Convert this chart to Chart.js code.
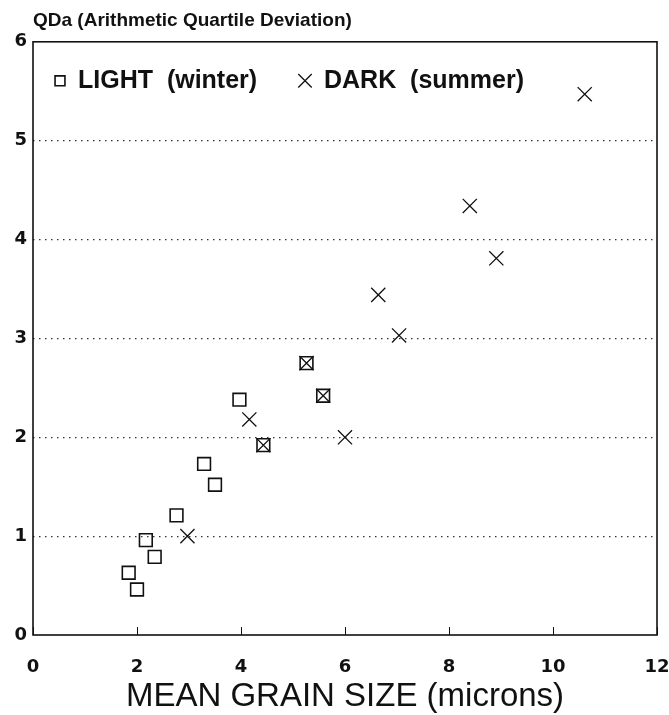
<!DOCTYPE html>
<html>
<head>
<meta charset="utf-8">
<script src="https://cdn.jsdelivr.net/npm/chart.js@4/dist/chart.umd.min.js"></script>
<style>
  html, body { margin: 0; padding: 0; background: #fff; }
  #wrap { width: 669px; height: 715px; }
</style>
</head>
<body>
<div id="wrap"><canvas id="chart" width="669" height="715"></canvas></div>
<script>
// values
var lightX = [1.84, 2.00, 2.17, 2.34, 2.76, 3.29, 3.50, 3.97, 4.43, 5.26, 5.58];
var lightY = [0.63, 0.46, 0.96, 0.79, 1.21, 1.73, 1.52, 2.38, 1.92, 2.75, 2.42];
var darkX = [2.97, 4.16, 4.43, 5.26, 5.58, 6.00, 6.64, 7.04, 8.40, 8.91, 10.61];
var darkY = [1.00, 2.18, 1.92, 2.75, 2.42, 2.00, 3.44, 3.03, 4.34, 3.81, 5.47];
var xTicks = [0, 2, 4, 6, 8, 10, 12];
var yTicks = [0, 1, 2, 3, 4, 5, 6];
var seriesNames = ['LIGHT  (winter)', 'DARK  (summer)'];

function pts(xs, ys) {
    var out = [];
    for (var i = 0; i < xs.length; i++) {
        out.push({ x: xs[i], y: ys[i] });
    }
    return out;
}

var FONT = "'Liberation Sans', Arial, sans-serif";
var NUMFONT = "'DejaVu Sans', sans-serif";
var INK = '#111';

// box round the plot
var frame = {
    id: 'frame',
    afterDraw: function(chart) {
        var a = chart.chartArea, ctx = chart.ctx;
        ctx.save();
        ctx.setLineDash([]);
        ctx.strokeStyle = INK;
        ctx.lineWidth = 1.6;
        ctx.strokeRect(a.left, a.top, a.right - a.left, a.bottom - a.top);
        ctx.restore();
    }
};

// legend written inside the top of the plot
var keyBox = {
    id: 'keyBox',
    afterDraw: function(chart) {
        var a = chart.chartArea, ctx = chart.ctx;
        var y = a.top + 39;
        var marks = [{ x: a.left + 27, tx: a.left + 45 }, { x: a.left + 272, tx: a.left + 291 }];
        ctx.save();
        ctx.font = 'bold 25px ' + FONT;
        ctx.textBaseline = 'middle';
        ctx.textAlign = 'left';
        chart.data.datasets.forEach(function(ds, i) {
            ctx.strokeStyle = INK;
            ctx.fillStyle = 'rgba(0,0,0,0)';
            ctx.lineWidth = ds.pointBorderWidth;
            Chart.helpers.drawPoint(ctx, {
                pointStyle: ds.pointStyle,
                radius: i === 0 ? 7 : 9.5,
                borderWidth: ds.pointBorderWidth,
                rotation: 0
            }, marks[i].x, y);
            ctx.fillStyle = INK;
            ctx.fillText(seriesNames[i], marks[i].tx, y);
        });
        ctx.restore();
    }
};

function noPad(s) {
    s.paddingLeft = 0;
    s.paddingRight = 0;
    s.paddingTop = 0;
    s.paddingBottom = 0;
}

new Chart(document.getElementById('chart'), {
    type: 'scatter',
    data: {
        datasets: [{
            label: seriesNames[0],
            data: pts(lightX, lightY),
            pointStyle: 'rect',
            pointRadius: 9,
            pointHoverRadius: 9,
            pointBorderWidth: 1.6,
            borderColor: INK,
            backgroundColor: 'rgba(0,0,0,0)'
        }, {
            label: seriesNames[1],
            data: pts(darkX, darkY),
            pointStyle: 'crossRot',
            pointRadius: 10,
            pointHoverRadius: 10,
            pointBorderWidth: 1.3,
            borderColor: INK,
            backgroundColor: INK
        }]
    },
    options: {
        responsive: false,
        animation: false,
        layout: { padding: { left: 0, right: 12, top: 8, bottom: 0 } },
        plugins: {
            tooltip: { enabled: false },
            legend: { display: false },
            title: {
                display: true,
                text: 'QDa (Arithmetic Quartile Deviation)',
                align: 'start',
                fullSize: false,
                color: INK,
                font: { family: FONT, size: 19, weight: 'bold' },
                padding: { top: 1, bottom: 10 }
            }
        },
        scales: {
            x: {
                type: 'linear',
                min: 0,
                max: 12,
                afterBuildTicks: function(s) { s.ticks = xTicks.map(function(v) { return { value: v }; }); },
                afterFit: function(s) { s.height = 80; noPad(s); },
                border: { display: false },
                grid: {
                    drawOnChartArea: false,
                    drawTicks: true,
                    tickLength: -8,
                    color: INK,
                    lineWidth: 1
                },
                ticks: {
                    padding: 30,
                    color: INK,
                    maxRotation: 0,
                    font: { family: NUMFONT, size: 18, weight: 'bold' }
                },
                title: {
                    display: true,
                    text: 'MEAN GRAIN SIZE (microns)',
                    color: INK,
                    font: { family: FONT, size: 33, lineHeight: 1 },
                    padding: { top: 2, bottom: 2 }
                }
            },
            y: {
                type: 'linear',
                min: 0,
                max: 6,
                afterBuildTicks: function(s) { s.ticks = yTicks.map(function(v) { return { value: v }; }); },
                afterFit: function(s) { s.width = 33; noPad(s); },
                border: { display: false, dash: [1.5, 4.5] },
                grid: {
                    drawTicks: false,
                    color: function(c) {
                        var v = c.tick ? c.tick.value : 0;
                        return (v === 0 || v === 6) ? 'rgba(0,0,0,0)' : '#333';
                    },
                    lineWidth: 1.2
                },
                ticks: {
                    padding: 6,
                    color: INK,
                    font: { family: NUMFONT, size: 18, weight: 'bold' }
                }
            }
        }
    },
    plugins: [frame, keyBox]
});
</script>
</body>
</html>
